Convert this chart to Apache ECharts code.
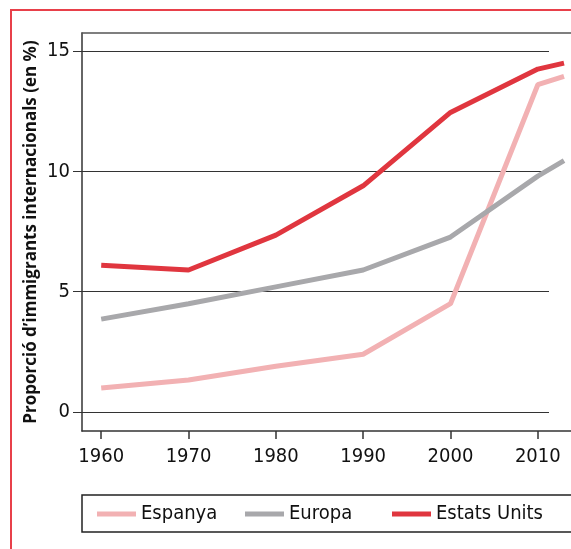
<!DOCTYPE html>
<html>
<head>
<meta charset="utf-8">
<script src="https://cdn.jsdelivr.net/npm/echarts@6/dist/echarts.min.js"></script>
<style>
html, body { margin: 0; padding: 0; background: #fff; }
#chart { width: 571px; height: 549px; }
</style>
</head>
<body>
<div id="chart"></div>
<script>
// dades
var years = [1960, 1970, 1980, 1990, 2000, 2010, 2013];
var espanya = [1.0, 1.33, 1.9, 2.4, 4.5, 13.6, 13.95];
var europa = [3.86, 4.5, 5.2, 5.9, 7.27, 9.8, 10.45];
var estatsUnits = [6.1, 5.9, 7.35, 9.4, 12.45, 14.25, 14.5];
var xTicks = [1960, 1970, 1980, 1990, 2000, 2010];
var yTicks = [0, 5, 10, 15];

var numFont = '"Liberation Sans Narrow", "DejaVu Sans Condensed", sans-serif';

function pairs(vals) {
  return years.map(function (y, i) { return [y, vals[i]]; });
}

var myChart = echarts.init(document.getElementById('chart'));

var option = {
  animation: false,
  grid: [
    // grid principal (linies)
    { left: 82, right: 0, top: 33, bottom: 118 },
    // grid per les linies de referencia
    { left: 73, right: 22, top: 51, bottom: 137 }
  ],
  xAxis: [
    {
      type: 'value', gridIndex: 0, min: 1957.8, max: 2013.8,
      axisLine: { show: true, onZero: false, lineStyle: { color: '#333', width: 1.5 } },
      axisTick: { show: true, customValues: xTicks, length: 8, lineStyle: { color: '#333', width: 1.5 } },
      axisLabel: {
        customValues: xTicks, margin: 16, color: '#111', fontSize: 20, fontFamily: numFont,
        formatter: function (v) { return String(v); }
      },
      splitLine: { show: false }
    },
    {
      type: 'value', gridIndex: 0, position: 'top', min: 1957.8, max: 2013.8,
      axisLine: { show: true, onZero: false, lineStyle: { color: '#555', width: 1.5 } },
      axisTick: { show: false }, axisLabel: { show: false }, splitLine: { show: false }
    },
    {
      type: 'value', gridIndex: 1, show: false, min: 0, max: 1
    }
  ],
  yAxis: [
    {
      type: 'value', gridIndex: 0, min: -0.79, max: 15.75,
      name: 'Proporció d\u2019immigrants internacionals (en %)',
      nameLocation: 'middle', nameGap: 42,
      nameTextStyle: { fontFamily: '"Open Sans", "Noto Sans", sans-serif', fontWeight: 'bold', fontSize: 17, color: '#111' },
      axisLine: { show: true, onZero: false, lineStyle: { color: '#333', width: 1.5 } },
      axisTick: { show: false }, axisLabel: { show: false }, splitLine: { show: false }
    },
    {
      type: 'value', gridIndex: 1, min: 0, max: 15, interval: 5,
      axisLine: { show: false }, axisTick: { show: false },
      axisLabel: { margin: 3, color: '#111', fontSize: 20, fontFamily: numFont },
      splitLine: { show: true, lineStyle: { color: '#333', width: 1.2 } }
    }
  ],
  legend: [
    { left: 92, top: 499, data: ['Espanya'] },
    { left: 240, top: 499, data: ['Europa'] },
    { left: 387, top: 499, data: ['Estats Units'] }
  ].map(function (l) {
    l.icon = 'rect';
    l.itemWidth = 39;
    l.itemHeight = 5;
    l.padding = 5;
    l.textStyle = { fontSize: 20, color: '#111', fontFamily: numFont };
    return l;
  }),
  graphic: [
    { type: 'rect', shape: { x: 11, y: 10, width: 600, height: 600 }, style: { fill: 'none', stroke: '#e8404a', lineWidth: 2 }, silent: true },
    { type: 'rect', shape: { x: 82, y: 495, width: 520, height: 37 }, style: { fill: 'none', stroke: '#222', lineWidth: 1.5 }, silent: true, z: -1 }
  ],
  series: [
    { name: 'Espanya', type: 'line', data: pairs(espanya), showSymbol: false, color: '#f2b1b3', lineStyle: { width: 5 }, z: 3 },
    { name: 'Europa', type: 'line', data: pairs(europa), showSymbol: false, color: '#a8a8ab', lineStyle: { width: 5 }, z: 4 },
    { name: 'Estats Units', type: 'line', data: pairs(estatsUnits), showSymbol: false, color: '#e0363f', lineStyle: { width: 5 }, z: 5 }
  ]
};

myChart.setOption(option);
</script>
</body>
</html>
